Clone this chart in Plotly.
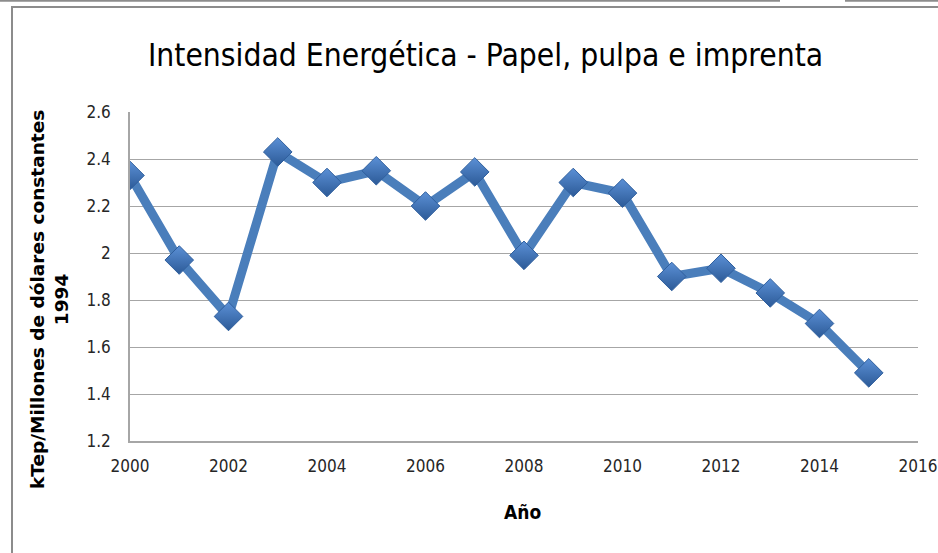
import plotly.graph_objects as go

years = list(range(2000, 2016))
intensidad = [2.33, 1.97, 1.73, 2.43, 2.30, 2.35, 2.20, 2.345, 1.99, 2.30, 2.255, 1.90, 1.935, 1.83, 1.70, 1.49]

title_text = "Intensidad Energética - Papel, pulpa e imprenta"
y_title = "kTep/Millones de dólares constantes<br>1994"
x_title = "Año"

FONT = "DejaVu Sans Condensed, sans-serif"

fig = go.Figure()
fig.add_trace(go.Scatter(
    x=years, y=intensidad, mode="lines+markers",
    line=dict(color="#4a7ebb", width=9),
    marker=dict(symbol="diamond", size=22, color="#5b90d6",
                line=dict(color="#2f5f9e", width=1),
                gradient=dict(type="vertical", color="#2c5a97")),
    showlegend=False, hoverinfo="x+y",
))

W, H = 938, 553
L, T = 130, 112
R = W - 918
B = H - 441
pw, ph = W - L - R, H - T - B

def px(x):
    return (x - L) / pw

def py(y):
    return (H - B - y) / ph

shapes = [
    dict(type="line", xref="paper", yref="paper", x0=px(12), x1=px(12), y0=py(7), y1=py(570),
         line=dict(color="#8c8c8c", width=2)),
    dict(type="line", xref="paper", yref="paper", x0=px(11), x1=px(960), y0=py(7), y1=py(7),
         line=dict(color="#8c8c8c", width=2)),
    dict(type="line", xref="paper", yref="paper", x0=px(-5), x1=px(780), y0=py(0.8), y1=py(0.8),
         line=dict(color="#8c8c8c", width=2)),
    dict(type="line", xref="paper", yref="paper", x0=px(845), x1=px(960), y0=py(0.8), y1=py(0.8),
         line=dict(color="#8c8c8c", width=2)),
]

fig.update_layout(
    width=W, height=H,
    margin=dict(l=L, r=R, t=T, b=B, autoexpand=False),
    paper_bgcolor="white", plot_bgcolor="white",
    xaxis=dict(range=[2000, 2016], tickmode="linear", tick0=2000, dtick=2,
               showgrid=False, showline=True, linecolor="#a6a6a6", linewidth=1.5,
               ticks="", zeroline=False, automargin=False, ticklabelstandoff=9,
               ticklabeloverflow="allow",
               tickfont=dict(family=FONT, size=17, color="#262626")),
    yaxis=dict(range=[1.2, 2.6], tickmode="linear", tick0=1.2, dtick=0.2,
               showgrid=True, gridcolor="#a6a6a6", gridwidth=1,
               showline=True, linecolor="#a6a6a6", linewidth=1.5,
               ticks="", zeroline=False, automargin=False, ticklabelstandoff=14,
               tickfont=dict(family=FONT, size=17, color="#262626")),
    shapes=shapes,
    annotations=[
        dict(text=title_text, xref="paper", yref="paper", x=px(485), y=py(55),
             showarrow=False, xanchor="center", yanchor="middle",
             font=dict(family=FONT, size=31.5, color="black")),
        dict(text="<b>" + y_title + "</b>", xref="paper", yref="paper",
             x=px(49), y=py(300), textangle=-90, showarrow=False,
             xanchor="center", yanchor="middle",
             font=dict(family="DejaVu Sans, sans-serif", size=18.5, color="black")),
        dict(text="<b>" + x_title + "</b>", xref="paper", yref="paper",
             x=px(522), y=py(512), showarrow=False, xanchor="center", yanchor="middle",
             font=dict(family=FONT, size=19, color="black")),
    ],
)

fig.write_html(
    "out.html",
    config={"displayModeBar": False},
    post_script="document.body.style.margin='0';document.body.style.overflow='hidden';",
)
